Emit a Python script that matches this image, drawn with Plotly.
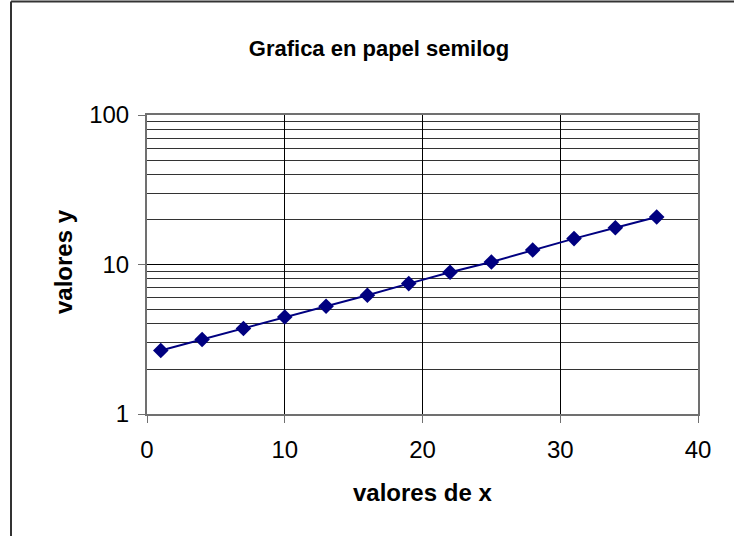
import plotly.graph_objects as go

x_vals = [1, 4, 7, 10, 13, 16, 19, 22, 25, 28, 31, 34, 37]
y_vals = [2.66, 3.15, 3.73, 4.45, 5.26, 6.23, 7.45, 8.87, 10.4, 12.5, 14.9, 17.6, 20.8]

title_text = "Grafica en papel semilog"
x_title = "valores de x"
y_title = "valores y"
y_major = [1, 10, 100]
y_minor = [2, 3, 4, 5, 6, 7, 8, 9, 20, 30, 40, 50, 60, 70, 80, 90]
x_ticks = [0, 10, 20, 30, 40]

FONT = "Liberation Sans, Arial, sans-serif"

fig = go.Figure()
fig.add_trace(go.Scatter(
    x=x_vals, y=y_vals, mode="lines+markers",
    line=dict(color="#000080", width=2),
    marker=dict(symbol="diamond", size=12, color="#000080"),
    showlegend=False,
))

W, H = 734, 536
L, T = 147, 115
pw, ph = 551, 299
R, B = W - L - pw, H - T - ph

bx = (11 - L) / pw          # left frame edge in paper units
by = (ph + T - 1.5) / ph    # top frame edge in paper units

fig.update_layout(
    width=W, height=H,
    margin=dict(l=L, r=R, t=T, b=B, autoexpand=False),
    paper_bgcolor="white", plot_bgcolor="white",
    font=dict(family=FONT, color="black"),
    title=dict(text="<b>" + title_text + "</b>", x=379 / W,
               xanchor="center", y=1 - 48 / H, yanchor="middle", font=dict(size=22)),
    xaxis=dict(range=[0, 40], tickvals=x_ticks, showgrid=True, gridcolor="black",
               gridwidth=1, showline=True, linecolor="#707070", linewidth=2, mirror=True,
               ticks="outside", ticklen=7, tickcolor="#707070", tickfont=dict(size=24),
               ticklabelstandoff=6, zeroline=False, automargin=False),
    yaxis=dict(type="log", range=[0, 2], tickvals=y_major, ticktext=[str(v) for v in y_major],
               showgrid=True, gridcolor="black", gridwidth=1,
               showline=True, linecolor="#707070", linewidth=2, mirror=True,
               ticks="outside", ticklen=7, tickcolor="#707070", tickfont=dict(size=24),
               ticklabelstandoff=4, automargin=False,
               minor=dict(tickvals=y_minor, showgrid=True, gridcolor="#333333", gridwidth=1, ticks="")),
    annotations=[
        dict(text="<b>" + x_title + "</b>", xref="paper", yref="paper",
             x=(422 - L) / pw, y=(ph + T - 492) / ph, xanchor="center", yanchor="middle",
             showarrow=False, font=dict(size=24)),
        dict(text="<b>" + y_title + "</b>", xref="paper", yref="paper",
             x=(63 - L) / pw, y=(ph + T - 262) / ph, xanchor="center", yanchor="middle",
             textangle=-90, showarrow=False, font=dict(size=24)),
    ],
    shapes=[
        dict(type="line", xref="paper", yref="paper", x0=bx, x1=(W - L) / pw, y0=by, y1=by,
             line=dict(color="#333333", width=2), layer="below"),
        dict(type="line", xref="paper", yref="paper", x0=bx, x1=bx, y0=-(H - T - ph) / ph, y1=by,
             line=dict(color="#333333", width=2), layer="below"),
    ],
)

fig.write_html("out.html", config={"displayModeBar": False},
               post_script="document.body.style.margin='0';document.body.style.overflow='hidden';"
                           "document.documentElement.style.overflow='hidden';")
